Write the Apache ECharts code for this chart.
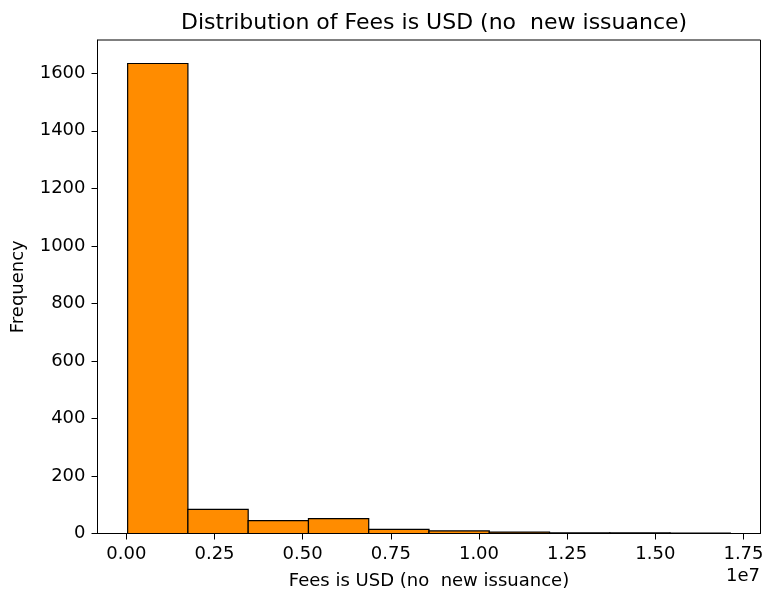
<!DOCTYPE html>
<html>
<head>
<meta charset="utf-8">
<script src="https://cdn.jsdelivr.net/npm/echarts@6/dist/echarts.min.js"></script>
<style>
  html, body { margin: 0; padding: 0; background: #fff; }
  #chart { width: 767px; height: 599px; }
</style>
</head>
<body>
<div id="chart"></div>
<script>
// Histogram of fees in USD: 10 equal-width bins
const binEdges = [37000, 1746100, 3455200, 5164300, 6873400, 8582500,
                  10291600, 12000700, 13709800, 15418900, 17128000];
const binCounts = [1634, 84, 45, 52, 14, 9, 5, 2, 2, 1];
const xTickValues = [0, 2500000, 5000000, 7500000, 10000000, 12500000, 15000000, 17500000];
const yTickValues = [0, 200, 400, 600, 800, 1000, 1200, 1400, 1600];

const titleText = 'Distribution of Fees is USD (no  new issuance)';
const xName = 'Fees is USD (no  new issuance)';
const yName = 'Frequency';

// axis extents with 5% margin on x, 5% headroom on y
const span = binEdges[binEdges.length - 1] - binEdges[0];
const xMin = binEdges[0] - 0.05 * span;
const xMax = binEdges[binEdges.length - 1] + 0.05 * span;
const yMax = 1.05 * Math.max(...binCounts);

const histData = binCounts.map((c, i) => [binEdges[i], binEdges[i + 1], c]);

const font = 'DejaVu Sans';
const fs = 18;
const axisLineStyle = { color: '#000', width: 1 };
const chart = echarts.init(document.getElementById('chart'), null, { renderer: 'canvas' });
chart.setOption({
  animation: false,
  backgroundColor: '#fff',
  title: {
    text: titleText,
    left: 176,
    top: 7,
    textStyle: { fontFamily: font, fontSize: 22, fontWeight: 'normal', color: '#000' }
  },
  grid: {
    left: 97.5, right: 6.5, top: 40, bottom: 65.5,
    show: true, borderColor: '#000', borderWidth: 1, backgroundColor: 'transparent'
  },
  xAxis: {
    type: 'value',
    min: xMin, max: xMax,
    name: xName,
    nameLocation: 'middle',
    nameGap: 39,
    nameTextStyle: { fontFamily: font, fontSize: fs, color: '#000' },
    axisLine: { show: true, onZero: false, lineStyle: axisLineStyle },
    splitLine: { show: false },
    axisTick: { show: true, inside: false, customValues: xTickValues, length: 6, lineStyle: axisLineStyle },
    axisLabel: {
      customValues: xTickValues,
      fontFamily: font, fontSize: fs, color: '#000', margin: 12,
      formatter: v => (v / 1e7).toFixed(2)
    }
  },
  yAxis: {
    type: 'value',
    min: 0, max: yMax,
    name: yName,
    nameLocation: 'middle',
    nameGap: 70,
    nameTextStyle: { fontFamily: font, fontSize: fs, color: '#000' },
    axisLine: { show: true, onZero: false, lineStyle: axisLineStyle },
    splitLine: { show: false },
    axisTick: { show: true, inside: false, customValues: yTickValues, length: 6, lineStyle: axisLineStyle },
    axisLabel: {
      customValues: yTickValues,
      fontFamily: font, fontSize: fs, color: '#000', margin: 12,
      formatter: v => String(v)
    }
  },
  graphic: [{
    type: 'text',
    right: 7,
    top: 567,
    style: { text: '1e7', fontFamily: font, fontSize: fs, fill: '#000' }
  }],
  series: [{
    type: 'custom',
    data: histData,
    encode: { x: [0, 1], y: 2 },
    renderItem: function (params, api) {
      const p0 = api.coord([api.value(0), api.value(2)]);
      const p1 = api.coord([api.value(1), 0]);
      return {
        type: 'rect',
        shape: { x: p0[0], y: p0[1], width: p1[0] - p0[0], height: p1[1] - p0[1] },
        style: { fill: '#FF8C00', stroke: '#000', lineWidth: 1.2 }
      };
    }
  }]
});
</script>
</body>
</html>
